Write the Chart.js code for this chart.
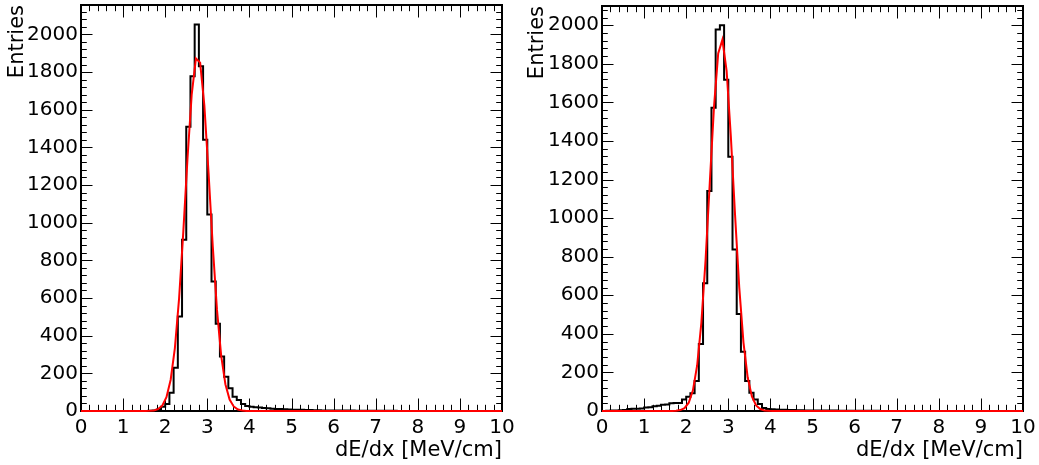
<!DOCTYPE html>
<html><head><meta charset="utf-8">
<script src="https://cdn.jsdelivr.net/npm/chart.js@4.4.1/dist/chart.umd.min.js"></script>
<style>
html,body{margin:0;padding:0;background:#fff;width:1039px;height:465px;overflow:hidden}
.p{position:absolute;top:0;height:465px}
</style></head><body>
<div class="p" style="left:0;width:520px"><canvas id="c1"></canvas></div>
<div class="p" style="left:520px;width:519px"><canvas id="c2"></canvas></div>
<script>
// ---- data ----
const binLow = 0;
const binWidth = 0.1;
const xMin = 0, xMax = 10;
const xTitle = 'dE/dx [MeV/cm]';
const yTitle = 'Entries';
const xMajorStep = 1, xMinorStep = 0.2;
const yMajorStep = 200, yMinorStep = 40;
const leftYMax = 2156;
const rightYMax = 2100;

const leftCounts = [
  0,0,0,0,0,0,0,0,0,0,
  0,0,0,0,0,0,1,2,8,23,
  37,97,230,502,910,1509,1778,2053,1831,1441,
  1043,688,463,289,182,121,76,58,37,26,
  22,20,18,16,14,12,11,10,9,8,
  7,6,6,5,5,4,4,3,3,3,
  2,2,2,2,2,1,1,1,1,1,
  1,1,1,1,1,0,0,0,0,0,
  0,0,0,0,0,0,0,0,0,0,
  0,0,0,0,0,0,0,0,0,0
];
const rightCounts = [
  0,1,2,3,4,5,11,12,12,13,
  18,19,25,27,33,34,40,41,42,60,
  74,92,155,347,662,1141,1573,1978,2000,1718,
  1318,838,503,307,155,95,60,36,16,11,
  9,8,7,6,5,5,4,4,3,3,
  3,2,2,2,2,2,1,1,1,1,
  1,1,1,1,1,1,0,0,0,0,
  0,0,0,0,0,0,0,0,0,0,
  0,0,0,0,0,0,0,0,0,0,
  0,0,0,0,0,0,0,0,0,0
];

const leftFitX = [0,1.53,1.63,1.73,1.83,1.93,2.03,2.13,2.23,2.33,2.43,2.53,2.63,2.73,2.83,2.93,3.03,3.13,3.23,3.33,3.43,3.53,3.63,3.73,3.83,3.93,4.03,4.13,10];
const leftFitY = [0,0.2,0.8,3,10,28,73,166,334,598,951,1342,1682,1872,1850,1623,1264,875,537,293,142,61,23,8,2.4,0.6,0.1,0,0];
const rightFitX = [0,1.56,1.66,1.76,1.86,1.96,2.06,2.16,2.26,2.36,2.46,2.56,2.66,2.76,2.86,2.96,3.06,3.16,3.26,3.36,3.46,3.56,3.66,3.76,3.86,3.96,4.06,4.16,10];
const rightFitY = [0,0.05,0.3,1.3,4.8,15,43,107,236,457,783,1182,1576,1854,1925,1764,1426,1018,641,356,175,76,29,10,2.9,0.8,0.2,0,0];

// ---- drawing ----
const FONT = 'DejaVu Sans';

const rootFrame = {
  id: 'rootFrame',
  beforeDatasetsDraw(chart) {
    const {ctx, chartArea: a, scales: {x, y}} = chart;
    ctx.save();
    ctx.strokeStyle = '#000';
    ctx.lineWidth = 1;
    const seg = (x1, y1, x2, y2) => { ctx.beginPath(); ctx.moveTo(x1, y1); ctx.lineTo(x2, y2); ctx.stroke(); };
    const nx = Math.round((x.max - x.min) / xMinorStep);
    for (let k = 0; k <= nx; k++) {
      const v = x.min + k * xMinorStep;
      const major = Math.abs(v / xMajorStep - Math.round(v / xMajorStep)) < 1e-6;
      const len = major ? 12.5 : 6.2;
      const px = Math.round(x.getPixelForValue(v)) + 0.5;
      seg(px, a.bottom, px, a.bottom - len);
      seg(px, a.top, px, a.top + len);
    }
    const ny = Math.floor((y.max - y.min) / yMinorStep);
    for (let k = 0; k <= ny; k++) {
      const v = y.min + k * yMinorStep;
      const major = (v % yMajorStep) === 0;
      const len = major ? 11.5 : 5.8;
      const py = Math.round(y.getPixelForValue(v)) + 0.5;
      seg(a.left, py, a.left + len, py);
      seg(a.right, py, a.right - len, py);
    }
    ctx.lineWidth = 2;
    ctx.strokeRect(a.left, a.top, a.right - a.left, a.bottom - a.top);
    ctx.restore();
  }
};

function makeChart(id, counts, fitX, fitY, yMax, padTop, padRight) {
  const hist = counts.map((v, i) => ({x: binLow + i * binWidth, y: v}));
  hist.push({x: binLow + counts.length * binWidth, y: counts[counts.length - 1]});
  const fit = fitX.map((v, i) => ({x: v, y: fitY[i]}));
  return new Chart(document.getElementById(id), {
    type: 'line',
    data: {datasets: [
      {data: fit, borderColor: '#ff0000', borderWidth: 2, pointRadius: 0, tension: 0, order: 1, clip: false, fill: false},
      {data: hist, borderColor: '#000000', borderWidth: 2, pointRadius: 0, stepped: true, order: 2, clip: false, fill: false}
    ]},
    options: {
      responsive: true, maintainAspectRatio: false, animation: false, events: [],
      layout: {padding: {top: padTop, right: padRight, left: 0, bottom: 0}},
      plugins: {legend: {display: false}, tooltip: {enabled: false}},
      scales: {
        x: {
          type: 'linear', min: xMin, max: xMax,
          border: {display: false},
          grid: {display: false, drawTicks: false},
          ticks: {stepSize: xMajorStep, autoSkip: false, includeBounds: false, maxRotation: 0, padding: 5,
                  color: '#000', font: {family: FONT, size: 20}, callback: v => String(v)},
          title: {display: true, text: xTitle, align: 'end', color: '#000',
                  font: {family: FONT, size: 21}, padding: {top: 0, bottom: 2}},
          afterFit(s) { s.height = 54; s.paddingLeft = 0; s.paddingRight = 0; }
        },
        y: {
          type: 'linear', min: 0, max: yMax,
          border: {display: false},
          grid: {display: false, drawTicks: false},
          ticks: {stepSize: yMajorStep, autoSkip: false, includeBounds: false, padding: 3,
                  color: '#000', font: {family: FONT, size: 20}, callback: v => String(v)},
          title: {display: true, text: yTitle, align: 'end', color: '#000',
                  font: {family: FONT, size: 21}, padding: {top: 5, bottom: 0}},
          afterFit(s) { s.width = (id === 'c1') ? 81 : 82; s.paddingTop = 0; s.paddingBottom = 0; }
        }
      }
    },
    plugins: [rootFrame]
  });
}

makeChart('c1', leftCounts, leftFitX, leftFitY, leftYMax, 5, 18);
makeChart('c2', rightCounts, rightFitX, rightFitY, rightYMax, 6, 16);
</script>
</body></html>
